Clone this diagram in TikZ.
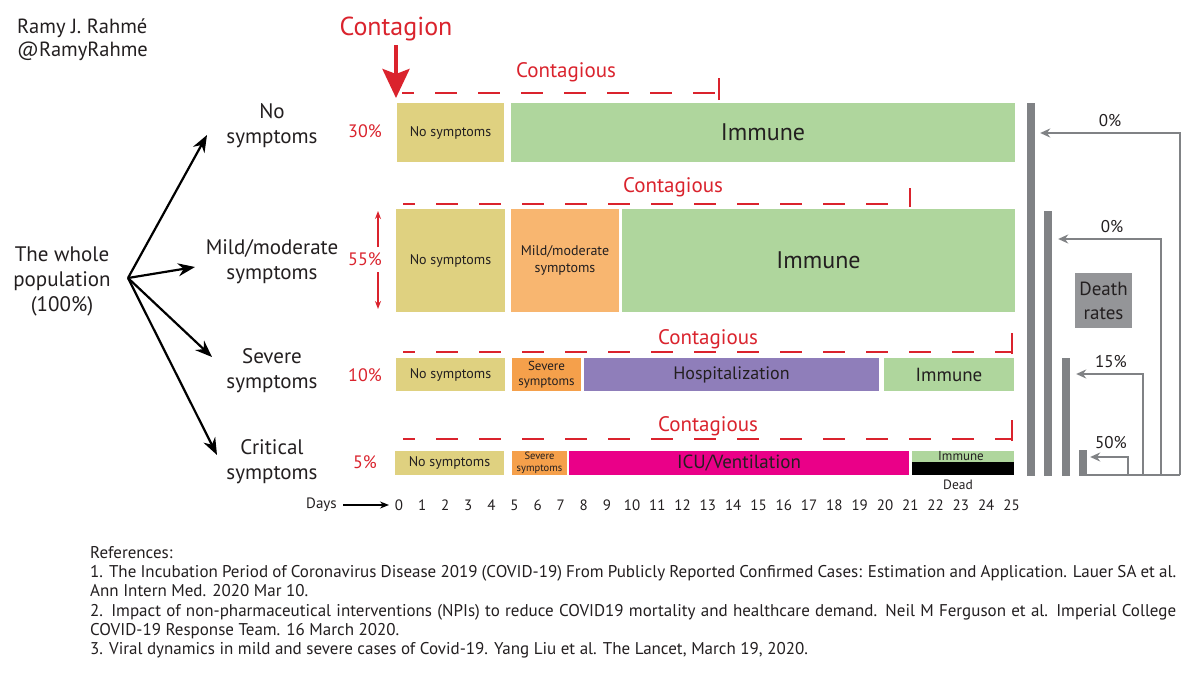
\documentclass[tikz,border=0pt]{standalone}
\usepackage{fontspec}
\setmainfont{PT Sans}
\usetikzlibrary{arrows.meta}
\definecolor{cred}{RGB}{218,35,45}
\definecolor{ctan}{RGB}{223,209,128}
\definecolor{cgreen}{RGB}{175,214,157}
\definecolor{corange}{RGB}{248,182,112}
\definecolor{cdorange}{RGB}{245,160,75}
\definecolor{cpurple}{RGB}{143,126,186}
\definecolor{cmagenta}{RGB}{234,0,136}
\definecolor{cbar}{RGB}{128,130,133}
\definecolor{cdeath}{RGB}{148,149,152}
\definecolor{ctext}{RGB}{35,31,32}
\newcommand\fsz[2]{\fontsize{#1}{#2}\selectfont}
\begin{document}
\begin{tikzpicture}[x=1pt,y=-1pt,
  lbl/.style={inner sep=0pt, text=ctext, align=center},
  box/.style={inner sep=0pt, draw=none, align=center, text=ctext},
  redtxt/.style={inner sep=0pt, text=cred, align=center},
  dashline/.style={draw=cred, line width=2.6pt, dash pattern=on 22pt off 21pt, dash phase=10pt},
  tickline/.style={draw=cred, line width=2.2pt},
  garr/.style={draw=cbar, line width=1.8pt, -{Stealth[length=10pt,width=9pt]}},
  gline/.style={draw=cbar, line width=1.8pt},
  barnode/.style={fill=cbar, inner sep=0pt, minimum width=8pt},
  karr/.style={draw=black, line width=2.2pt, -{Stealth[length=17pt,width=13pt]}},
  rarr/.style={draw=cred, line width=1.5pt, -{Stealth[length=8pt,width=6pt]}},
]
\useasboundingbox (0,0) rectangle (1200,680);
\fill[white] (0,0) rectangle (1200,680);

% header
\node[lbl, anchor=base west, font=\fsz{20.5}{24}] (author) at (17,34) {Ramy J. Rahmé};
\node[lbl, anchor=base west, font=\fsz{20.5}{24}] (handle) at (17,56) {@RamyRahme};
\node[redtxt, anchor=base, font=\fsz{26}{30}] (contagion) at (396,35) {Contagion};
\coordinate (cg1) at (396,45);
\coordinate (cg2) at (396,98);
\draw[draw=cred, line width=4pt, -{Stealth[length=29pt,width=27pt,inset=5pt]}] (cg1) -- (cg2);

% tree
\node[lbl, font=\fsz{21}{25}] (pop) at (62,281) {The whole\\population\\(100\%)};
\coordinate (src) at (128,278);
\coordinate (e1) at (207,135);
\coordinate (e2) at (195,267);
\coordinate (e3) at (212,357);
\coordinate (e4) at (217,455);
\draw[karr] (src) -- (e1);
\draw[karr] (src) -- (e2);
\draw[karr] (src) -- (e3);
\draw[karr] (src) -- (e4);
\node[lbl, font=\fsz{21}{25}] (nosym) at (272,126) {No\\symptoms};
\node[lbl, font=\fsz{21}{25}] (mild) at (272,262) {Mild/moderate\\symptoms};
\node[lbl, font=\fsz{21}{25}] (severe) at (272,371) {Severe\\symptoms};
\node[lbl, font=\fsz{21}{25}] (critical) at (272,462) {Critical\\symptoms};

% percentages
\node[redtxt, font=\fsz{18}{20}] (p30) at (365,131) {30\%};
\node[redtxt, font=\fsz{18}{20}] (p55) at (365,259) {55\%};
\node[redtxt, font=\fsz{18}{20}] (p10) at (365,375) {10\%};
\node[redtxt, font=\fsz{18}{20}] (p5) at (365,462) {5\%};
\coordinate (m1) at (378,247);
\coordinate (m2) at (378,211);
\coordinate (m3) at (378,272);
\coordinate (m4) at (378,309);
\draw[rarr] (m1) -- (m2);
\draw[rarr] (m3) -- (m4);

% row 1
\node[box, fill=ctan, minimum width=107pt, minimum height=59pt, font=\fsz{14}{16}] (r1a) at (450.5,132.5) {No symptoms};
\node[box, fill=cgreen, minimum width=504pt, minimum height=59pt, font=\fsz{24}{28}] (r1b) at (763,132.5) {Immune};
% row 2
\node[box, fill=ctan, minimum width=109pt, minimum height=103pt, font=\fsz{14}{16}] (r2a) at (450.5,260.5) {No symptoms};
\node[box, fill=corange, minimum width=108pt, minimum height=103pt, font=\fsz{14}{17}] (r2b) at (565,260.5) {Mild/moderate\\symptoms};
\node[box, fill=cgreen, minimum width=393pt, minimum height=103pt, font=\fsz{24}{28}] (r2c) at (818.5,260.5) {Immune};
% row 3
\node[box, fill=ctan, minimum width=109pt, minimum height=33pt, font=\fsz{14}{16}] (r3a) at (450.5,374.5) {No symptoms};
\node[box, fill=cdorange, minimum width=69pt, minimum height=33pt, font=\fsz{13}{15.5}] (r3b) at (546.5,374.5) {Severe\\symptoms};
\node[box, fill=cpurple, minimum width=295pt, minimum height=33pt, font=\fsz{18}{22}] (r3c) at (731.5,374.5) {Hospitalization};
\node[box, fill=cgreen, minimum width=130pt, minimum height=33pt, font=\fsz{19}{22}] (r3d) at (949,374.5) {Immune};
% row 4
\node[box, fill=ctan, minimum width=109pt, minimum height=24pt, font=\fsz{14}{16}] (r4a) at (449.5,463) {No symptoms};
\node[box, fill=cdorange, minimum width=55pt, minimum height=24pt, font=\fsz{10.5}{11.5}] (r4b) at (539.5,463) {Severe\\symptoms};
\node[box, fill=cmagenta, minimum width=340pt, minimum height=24pt, font=\fsz{19}{22}] (r4c) at (739,463) {ICU/Ventilation};
\node[box, fill=cgreen, minimum width=102pt, minimum height=11pt] (r4d) at (963,456.5) {};
\node[box, fill=black, minimum width=102pt, minimum height=13pt] (r4e) at (963,468.5) {};
\node[lbl, font=\fsz{13}{14}] (r4dt) at (961,456.5) {Immune};
\node[lbl, font=\fsz{13.5}{15}] (dead) at (958,485) {Dead};

% contagious
\node[redtxt, anchor=base, font=\fsz{21}{24}] (ct1) at (566,77) {Contagious};
\node[redtxt, anchor=base, font=\fsz{21}{24}] (ct2) at (673,192) {Contagious};
\node[redtxt, anchor=base, font=\fsz{21}{24}] (ct3) at (708,344) {Contagious};
\node[redtxt, anchor=base, font=\fsz{21}{24}] (ct4) at (708,431) {Contagious};
\coordinate (d1s) at (402,93);  \coordinate (d1e) at (719,93);
\coordinate (d2s) at (403,204); \coordinate (d2e) at (910,204);
\coordinate (d3s) at (403,352); \coordinate (d3e) at (1012,352);
\coordinate (d4s) at (403,439); \coordinate (d4e) at (1012,439);
\draw[dashline] (d1s) -- (d1e);
\draw[dashline] (d2s) -- (d2e);
\draw[dashline] (d3s) -- (d3e);
\draw[dashline] (d4s) -- (d4e);
\draw[tickline] (719,100) -- (719,78);
\draw[tickline] (910,207) -- (910,188);
\draw[tickline] (1012,354) -- (1012,333);
\draw[tickline] (1012,441) -- (1012,420);

% days axis
\node[lbl, anchor=east, font=\fsz{15}{17}] (days) at (337,505) {Days};
\coordinate (da1) at (343,505);
\coordinate (da2) at (389,505);
\draw[draw=black, line width=1.4pt, -{Stealth[length=9pt,width=7pt]}] (da1) -- (da2);
\foreach \i in {0,...,9} \node[lbl, font=\fsz{15}{17}] (day\i) at ({399+23.1*\i},505) {\i};
\foreach \i in {10,...,25} \node[lbl, font=\fsz{15}{17}] (day\i) at ({632+25.3*(\i-10)},505) {\i};

% death rate bars
\node[barnode, minimum height=373pt] (bar1) at (1031,289.5) {};
\node[barnode, minimum height=265pt] (bar2) at (1048,343.5) {};
\node[barnode, minimum height=118pt] (bar3) at (1066,417) {};
\node[barnode, minimum height=26pt] (bar4) at (1083,463) {};
\coordinate (b0) at (1087,475);
\coordinate (b1) at (1180,475);
\coordinate (b2) at (1161,475);
\coordinate (b3) at (1143,475);
\coordinate (b4) at (1128,475);
\draw[gline] (b0) -- (b1);
\draw[garr, shorten >=5pt] (b1) |- (bar1.east |- 0,133);
\draw[garr, shorten >=6pt] (b2) |- (bar2.east |- 0,239);
\draw[garr, shorten >=6pt] (b3) |- (bar3.east |- 0,374);
\draw[garr, shorten >=3pt] (b4) |- (bar4.east |- 0,457);
\node[lbl, font=\fsz{17}{19}] (dr1) at (1110,121) {0\%};
\node[lbl, font=\fsz{17}{19}] (dr2) at (1112,227) {0\%};
\node[lbl, font=\fsz{17}{19}] (dr3) at (1111,362) {15\%};
\node[lbl, font=\fsz{17}{19}] (dr4) at (1111,443) {50\%};
\node[box, fill=cdeath, minimum width=57pt, minimum height=55pt, font=\fsz{19}{24}] (deathbox) at (1103.5,300.5) {Death\\rates};

% references
\node[anchor=north west, inner sep=0pt, text=ctext, text width=1086pt, align=justify, font=\fsz{17}{19.3}] (refs) at (90,546) {References:\\
1. The Incubation Period of Coronavirus Disease 2019 (COVID-19) From Publicly Reported Confirmed Cases: Estimation and Application. Lauer SA et al.\linebreak Ann Intern Med. 2020 Mar 10.\\
2. Impact of non-pharmaceutical interventions (NPIs) to reduce COVID19 mortality and healthcare demand. Neil M Ferguson et al. Imperial College\linebreak COVID-19 Response Team. 16 March 2020.\\
3. Viral dynamics in mild and severe cases of Covid-19. Yang Liu et al. The Lancet, March 19, 2020.};
\end{tikzpicture}
\end{document}
